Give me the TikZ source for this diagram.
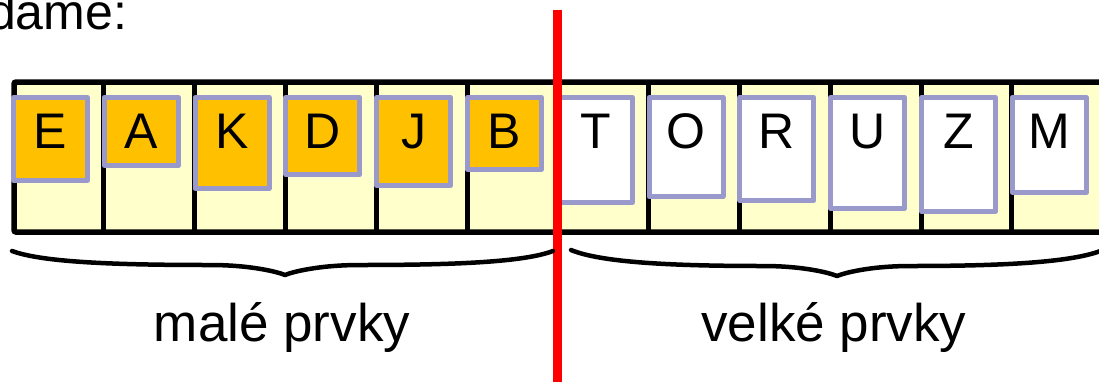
\documentclass[tikz,border=0pt]{standalone}
\usepackage{fontspec}
\setmainfont{Liberation Sans}
\definecolor{cellyellow}{RGB}{255,255,204}
\definecolor{cardorange}{RGB}{255,192,0}
\definecolor{cardedge}{RGB}{153,153,204}
\definecolor{pivotred}{RGB}{255,0,0}
\tikzset{
  arraybox/.style={draw=black, fill=cellyellow, line width=5.5pt, rounded corners=2pt},
  divider/.style={draw=black, line width=5pt},
  card/.style={draw=cardedge, line width=5pt, line join=round},
  letter/.style={anchor=base, inner sep=0pt, font=\fontsize{50}{60}\selectfont},
  label/.style={anchor=base, inner sep=0pt, font=\fontsize{53}{63}\selectfont},
  bracket/.style={draw=black, line width=4.5pt, line cap=round, line join=round},
  splitline/.style={draw=pivotred, line width=9pt}
}
\begin{document}
\begin{tikzpicture}[x=1pt, y=-1pt]
\clip (0,0) rectangle (1099,381);

% heading (its start runs off the left edge)
\node[label, anchor=base west, font=\fontsize{50}{60}\selectfont] (head) at (-12,29.3) {dame:};

% the array and its cell walls
\path[arraybox] (14,82) rectangle (1130,232);
\foreach \k in {1,...,11}
  \draw[divider] ({13+90.8*\k},82) -- ({13+90.8*\k},232);

% cards: letter / index / bottom edge / fill
\foreach \l/\i/\b/\f in {E/0/183/cardorange, A/1/168/cardorange, K/2/191/cardorange,
                         D/3/177/cardorange, J/4/188/cardorange, B/5/172/cardorange,
                         T/6/205/white, O/7/199/white, R/8/203/white,
                         U/9/211/white, Z/10/214/white, M/11/195/white} {
  \draw[card, fill=\f] ({13.5+90.8*\i},97.5) rectangle ({87.5+90.8*\i},{\b-2.5});
  \node[letter] (c\l) at ({50.5+90.8*\i},148) {\l};
}

% split between the two parts
\coordinate (splittop) at (557,10);
\coordinate (splitbot) at (557,400);
\draw[splitline] (splittop) -- (splitbot);

% braces
\draw[bracket] (12,251) .. controls (42,262) and (111,265) .. (210,265)
  .. controls (251,265) and (278,272) .. (285,275)
  .. controls (292,272) and (319,265) .. (360,265)
  .. controls (456,265) and (524,262) .. (553,251);
\draw[bracket] (571,250) .. controls (600,262) and (667,266) .. (763,266)
  .. controls (804,266) and (830,273) .. (837,276)
  .. controls (844,273) and (870,266) .. (911,266)
  .. controls (1007,266) and (1074,262) .. (1103,250);

% captions
\node[label] (small) at (282,341) {malé prvky};
\node[label] (large) at (834,341) {velké prvky};
\end{tikzpicture}
\end{document}
